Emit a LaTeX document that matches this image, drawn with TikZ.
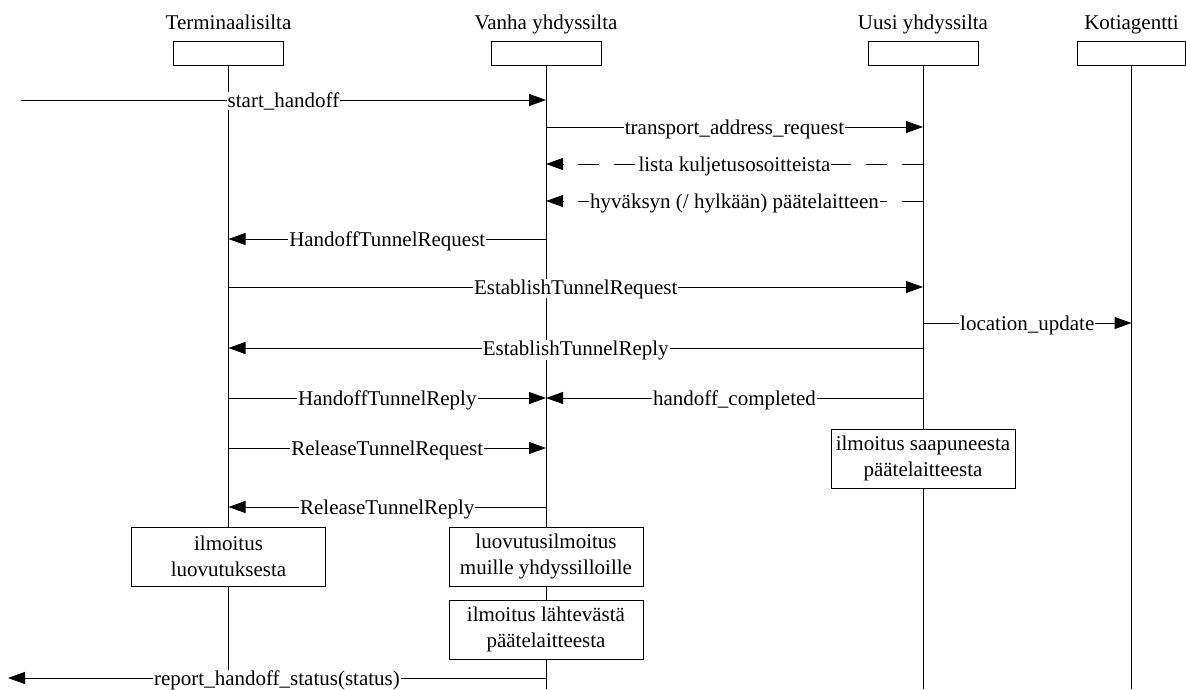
\documentclass[tikz,border=0pt]{standalone}
\usepackage{fontspec}
\setmainfont{Liberation Serif}
\usetikzlibrary{arrows.meta}
\begin{document}
\begin{tikzpicture}[x=1pt,y=-1pt,
  font=\fontsize{21}{26}\selectfont,
  head/.style={draw, line width=1pt, minimum width=110pt, minimum height=24pt, inner sep=0pt},
  title/.style={anchor=base, inner sep=0pt},
  life/.style={line width=1pt},
  msg/.style={line width=1pt, -{Triangle[length=17pt,width=12pt]}},
  rep/.style={msg, dash pattern=on 21pt off 15pt},
  lbl/.style={fill=white, inner xsep=1pt, inner ysep=0pt, anchor=base, yshift=-7pt},
  act/.style={draw, fill=white, line width=1pt, minimum width=194pt, minimum height=59pt, inner sep=0pt, align=center}]
\useasboundingbox (0,0) rectangle (1186,689);
% headers
\node[head] (hT) at (228.5,53.5) {};
\node[head] (hV) at (546,53.5) {};
\node[head] (hU) at (923,53.5) {};
\node[head, minimum width=108pt] (hK) at (1131.5,53.5) {};
\node[title] (tT) at (228.5,29) {Terminaalisilta};
\node[title] (tV) at (546,29) {Vanha yhdyssilta};
\node[title] (tU) at (923,29) {Uusi yhdyssilta};
\node[title] (tK) at (1131.5,29) {Kotiagentti};
% lifeline ends
\coordinate (bT) at (228.5,689);
\coordinate (bV) at (546,689);
\coordinate (bU) at (923,689);
\coordinate (bK) at (1131.5,689);
\draw[life] (hT.south) -- (bT);
\draw[life] (hV.south) -- (bV);
\draw[life] (hU.south) -- (bU);
\draw[life] (hK.south) -- (bK);
% message rows
\coordinate (m1) at (0,100);
\coordinate (m2) at (0,127);
\coordinate (m3) at (0,164);
\coordinate (m4) at (0,201);
\coordinate (m5) at (0,239);
\coordinate (m6) at (0,287);
\coordinate (m7) at (0,323);
\coordinate (m8) at (0,348);
\coordinate (m9) at (0,398);
\coordinate (m10) at (0,448);
\coordinate (m11) at (0,507);
\coordinate (m12) at (0,678);
\coordinate (src) at (21,100);
\coordinate (snk) at (8,678);
% messages
\draw[msg] (src) -- node[lbl]{start\_handoff} (hV |- m1);
\draw[msg] (hV |- m2) -- node[lbl]{transport\_address\_request} (hU |- m2);
\draw[rep] (hU |- m3) -- node[lbl]{lista kuljetusosoitteista} (hV |- m3);
\draw[rep] (hU |- m4) -- node[lbl]{hyväksyn (/ hylkään) päätelaitteen} (hV |- m4);
\draw[msg] (hV |- m5) -- node[lbl]{HandoffTunnelRequest} (hT |- m5);
\draw[msg] (hT |- m6) -- node[lbl]{EstablishTunnelRequest} (hU |- m6);
\draw[msg] (hU |- m7) -- node[lbl]{location\_update} (hK |- m7);
\draw[msg] (hU |- m8) -- node[lbl]{EstablishTunnelReply} (hT |- m8);
\draw[msg] (hT |- m9) -- node[lbl]{HandoffTunnelReply} (hV |- m9);
\draw[msg] (hU |- m9) -- node[lbl]{handoff\_completed} (hV |- m9);
\draw[msg] (hT |- m10) -- node[lbl]{ReleaseTunnelRequest} (hV |- m10);
\draw[msg] (hV |- m11) -- node[lbl]{ReleaseTunnelReply} (hT |- m11);
\draw[msg] (hV |- m12) -- node[lbl]{report\_handoff\_status(status)} (snk);
% activity boxes
\node[act, minimum width=184pt] (aU) at (923,458.5) {ilmoitus saapuneesta\\päätelaitteesta};
\node[act] (aT) at (228.5,556.5) {ilmoitus\\luovutuksesta};
\node[act] (aV1) at (546,556.5) {luovutusilmoitus\\muille yhdyssilloille};
\node[act] (aV2) at (546,629.5) {ilmoitus lähtevästä\\päätelaitteesta};
\end{tikzpicture}
\end{document}
